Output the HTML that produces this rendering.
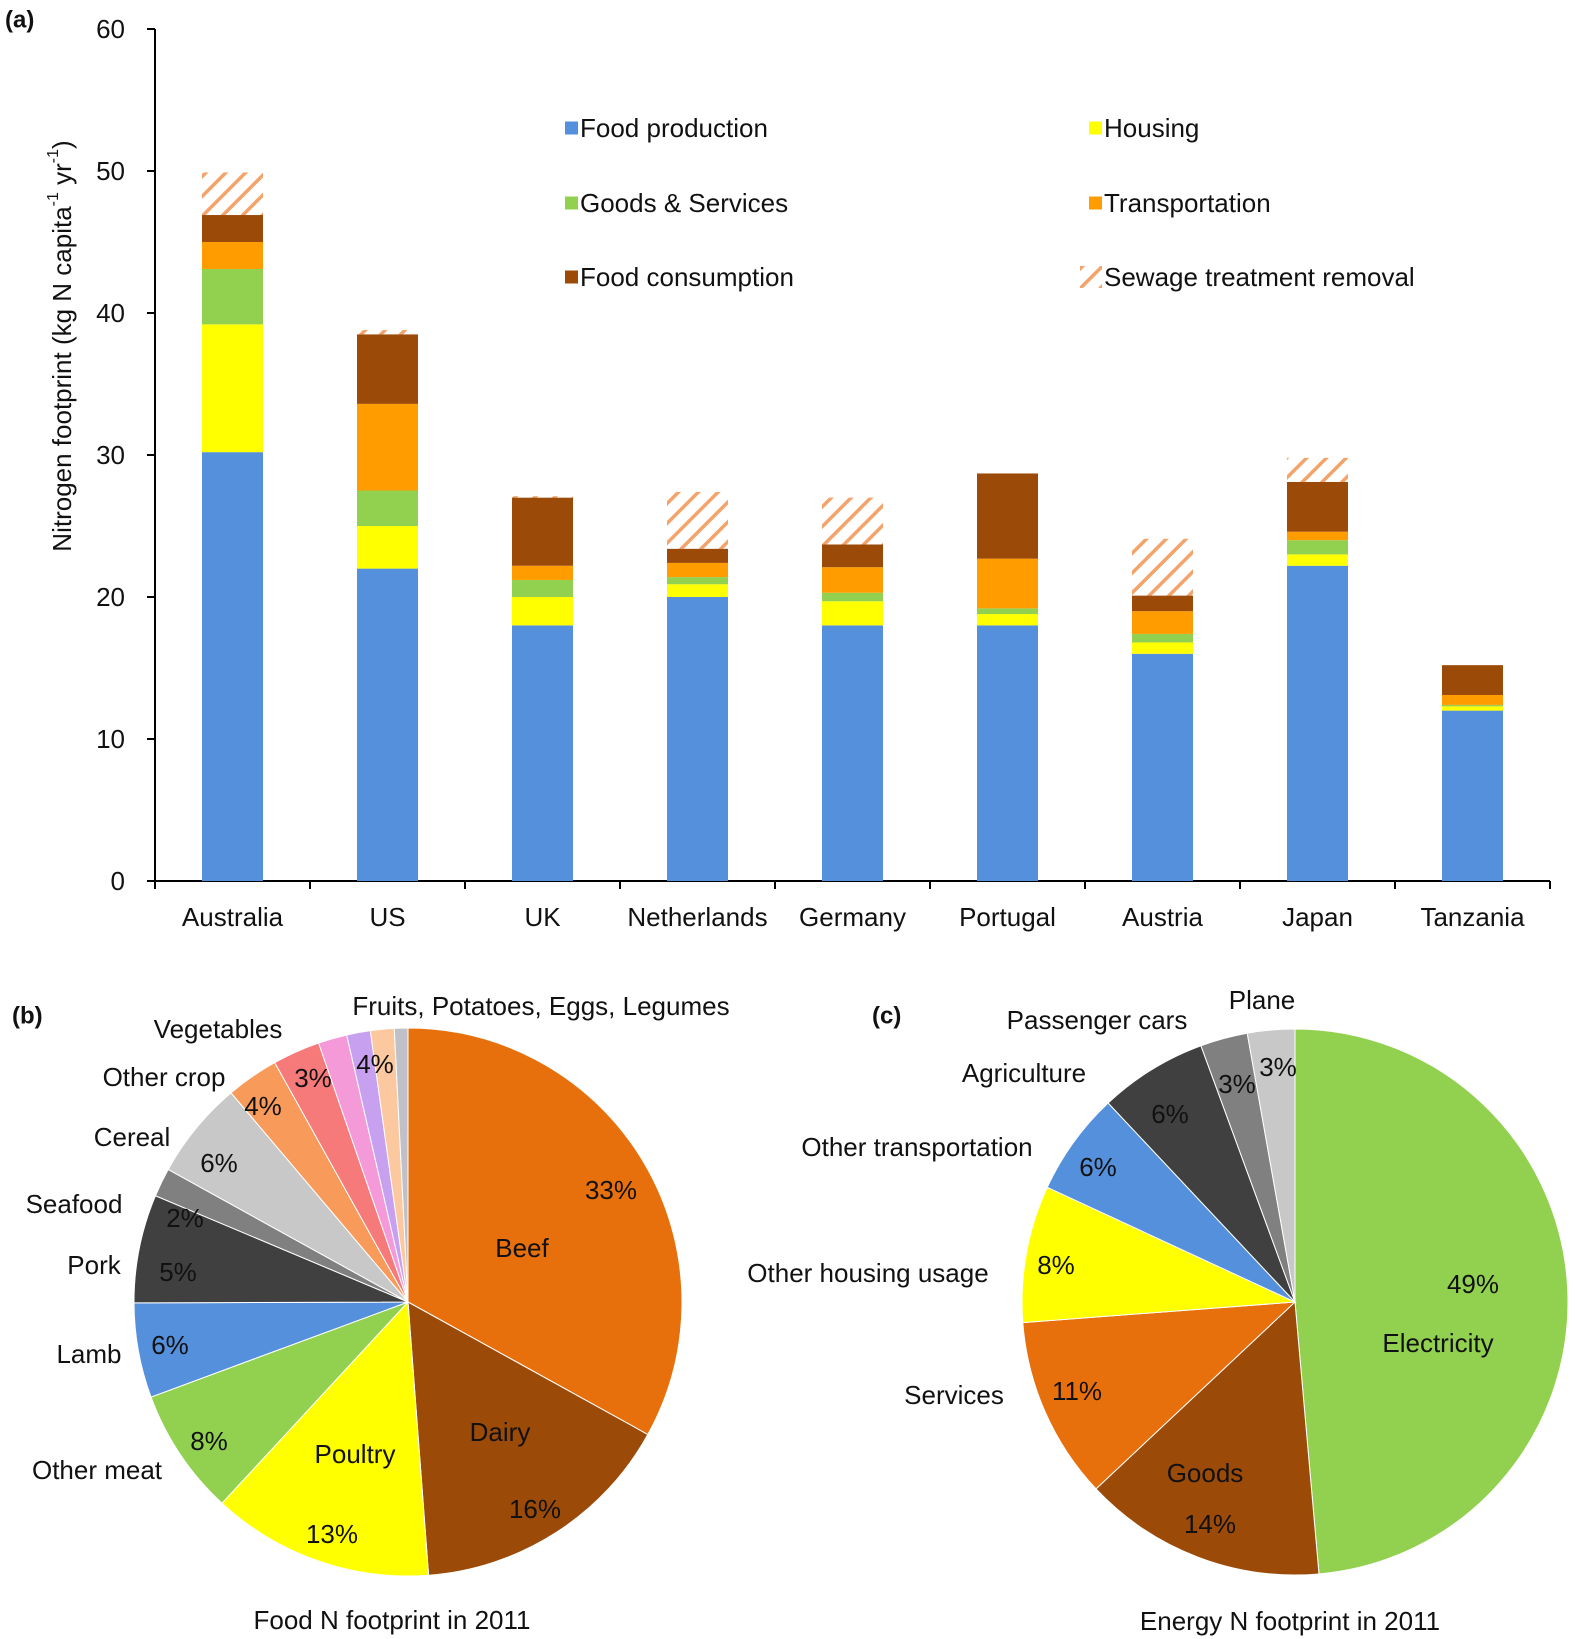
<!DOCTYPE html>
<html><head><meta charset="utf-8"><style>
html,body{margin:0;padding:0;background:#fff;}
svg{display:block;font-family:"Liberation Sans",Arial,sans-serif;}
</style></head><body>
<svg id="fig" width="1575" height="1639" viewBox="0 0 1575 1639" xmlns="http://www.w3.org/2000/svg">
<defs>
<pattern id="hatch" patternUnits="userSpaceOnUse" width="14" height="14" patternTransform="rotate(45)">
<rect width="14" height="14" fill="#fff"/><rect x="0" y="0" width="3.5" height="14" fill="#f4a46a"/>
</pattern>
</defs>
<g id="chartA"></g>
<g id="pieB"></g>
<g id="pieC"></g>
</svg>
<script>
const categories=["Australia","US","UK","Netherlands","Germany","Portugal","Austria","Japan","Tanzania"];
const foodProduction=[30.2,22,18,20,18,18,16,22.2,12];
const housing=[9,3,2,0.9,1.7,0.8,0.8,0.8,0.3];
const goodsServices=[3.9,2.5,1.2,0.5,0.6,0.4,0.6,1.0,0.1];
const transportation=[1.9,6.1,1.0,1.0,1.8,3.5,1.6,0.6,0.7];
const foodConsumption=[1.9,4.9,4.8,1.0,1.6,6.0,1.1,3.5,2.1];
const sewage=[3,0.3,0.1,4.0,3.3,0,4.0,1.7,0];
const yTicks=[0,10,20,30,40,50,60];
const seriesNames=["Food production","Housing","Goods & Services","Transportation","Food consumption","Sewage treatment removal"];

const foodLabels=["Beef","Dairy","Poultry","Other meat","Lamb","Pork","Seafood","Cereal","Other crop","Vegetables","Fruits","Potatoes","Eggs","Legumes"];
const foodValues=[33.1,15.8,13.1,7.5,5.6,6.4,1.7,5.8,3.1,2.8,1.7,1.4,1.4,0.8];
const energyLabels=["Electricity","Goods","Services","Other housing usage","Other transportation","Agriculture","Passenger cars","Plane"];
const energyValues=[48.6,14.4,10.8,8.1,6.1,6.4,2.8,2.8];

const NS="http://www.w3.org/2000/svg";
function mk(tag,attrs,parent){const e=document.createElementNS(NS,tag);for(const k in attrs)e.setAttribute(k,attrs[k]);parent.appendChild(e);return e;}
function txt(parent,x,y,s,size,anchor,weight){const t=mk("text",{x:x,y:y,"font-size":size||26,"text-anchor":anchor||"middle","dominant-baseline":"central","font-weight":weight||"normal",fill:"#111"},parent);t.textContent=s;return t;}

const A=document.getElementById("chartA");
const x0=155,y0=881,yTop=29,step=155,bw=61;
const yScale=v=>y0-(v/60)*(y0-yTop);
const xCenter=i=>x0+step*(i+0.5);
let t=txt(A,5,20,"(a)",24,"start","bold");

let ax=mk("line",{x1:x0,y1:yTop,x2:x0,y2:y0,stroke:"#000","stroke-width":2},A);

ax=mk("line",{x1:x0,y1:y0,x2:x0+step*9,y2:y0,stroke:"#000","stroke-width":2},A);

yTicks.forEach(v=>{
  const y=yScale(v);
  const l=mk("line",{x1:x0-8,y1:y,x2:x0,y2:y,stroke:"#000","stroke-width":2},A);
  
  const tl=txt(A,x0-30,y,String(v),26,"end");
  
});
for(let i=0;i<=9;i++){
  const l=mk("line",{x1:x0+step*i,y1:y0,x2:x0+step*i,y2:y0+8,stroke:"#000","stroke-width":2},A);
  
}
const yt=txt(A,0,0,"",26,"middle");
yt.setAttribute("transform","translate(62,346) rotate(-90)");
yt.innerHTML='Nitrogen footprint (kg N capita<tspan baseline-shift="super" font-size="16">-1</tspan> yr<tspan baseline-shift="super" font-size="16">-1</tspan>)';

const series=[foodProduction,housing,goodsServices,transportation,foodConsumption,sewage];
const colors=["#5590dc","#ffff00","#92d050","#ff9c00","#9c4a08","url(#hatch)"];
const sNames=["food-production","housing","goods-services","transportation","food-consumption","sewage"];
categories.forEach((c,i)=>{
  let base=0;
  series.forEach((s,k)=>{
    const v=s[i];
    if(v>0){
      const r=mk("rect",{x:xCenter(i)-bw/2,y:yScale(base+v),width:bw,height:yScale(base)-yScale(base+v),fill:colors[k]},A);
      
      
    }
    base+=v;
  });
  const cl=txt(A,xCenter(i),917,c,26);
  
});
const legPos=[[565,128],[1089,128],[565,203],[1089,203],[565,277],[1089,277]];
const legColors=["#5590dc","#ffff00","#92d050","#ff9c00","#9c4a08","url(#hatch)"];
[0,1,2,3,4,5].forEach((k,j)=>{
  const [lx,ly]=legPos[j];
  const g=mk("g",{},A);
  
  const sz=k==5?22:13;
  mk("rect",{x:lx-(k==5?9:0),y:ly-sz/2,width:sz,height:sz,fill:legColors[k]},g);
  txt(g,lx+15,ly,seriesNames[k],26,"start");
});

function pie(parent,cx,cy,r,values,cols,name){
  const total=values.reduce((a,b)=>a+b,0);
  let a=0;
  values.forEach((v,i)=>{
    const a1=a+v/total*2*Math.PI;
    const p=(ang)=>[cx+r*Math.sin(ang),cy-r*Math.cos(ang)];
    const [x1,y1]=p(a),[x2,y2]=p(a1);
    const large=(a1-a)>Math.PI?1:0;
    const s=mk("path",{d:`M${cx},${cy} L${x1},${y1} A${r},${r} 0 ${large} 1 ${x2},${y2} Z`,fill:cols[i],stroke:"#fff","stroke-width":1},parent);
    
    
    a=a1;
  });
}
const B=document.getElementById("pieB");
pie(B,408,1302,274,foodValues,["#e8700c","#9c4a08","#ffff00","#92d050","#5590dc","#404040","#808080","#c8c8c8","#f79a5a","#f77a7a","#f59ad8","#c8a0f0","#fcc8a0","#c0c0c8"],"food");
const bTexts=[["(b)",12,1016,24,"start","bold"],["Fruits, Potatoes, Eggs, Legumes",541,1006],["Vegetables",218,1029],["Other crop",164,1077],["Cereal",132,1137],["Seafood",74,1204],["Pork",94,1265],["Lamb",89,1354],["Other meat",97,1470],["Food N footprint in 2011",392,1620],
["33%",611,1190],["Beef",522,1248],["Dairy",500,1432],["16%",535,1509],["Poultry",355,1454],["13%",332,1534],["8%",209,1441],["6%",170,1345],["5%",178,1272],["2%",185,1218],["6%",219,1163],["4%",263,1106],["3%",313,1078],["4%",375,1064]];
bTexts.forEach(d=>{const e=txt(B,d[1],d[2],d[0],d[3]||26,d[4]||"middle",d[5]||"normal");
});
const C=document.getElementById("pieC");
pie(C,1295,1302,273,energyValues,["#92d050","#9c4a08","#e8700c","#ffff00","#5590dc","#404040","#808080","#c8c8c8"],"energy");
const cTexts=[["(c)",872,1016,24,"start","bold"],["Plane",1262,1000],["Passenger cars",1097,1020],["Agriculture",1024,1073],["Other transportation",917,1147],["Other housing usage",868,1273],["Services",954,1395],["Energy N footprint in 2011",1290,1621],
["3%",1278,1067],["3%",1237,1084],["6%",1170,1114],["6%",1098,1167],["8%",1056,1265],["11%",1077,1391],["Goods",1205,1473],["14%",1210,1524],["49%",1473,1284],["Electricity",1438,1343]];
cTexts.forEach(d=>{const e=txt(C,d[1],d[2],d[0],d[3]||26,d[4]||"middle",d[5]||"normal");
});
</script>
</body></html>
